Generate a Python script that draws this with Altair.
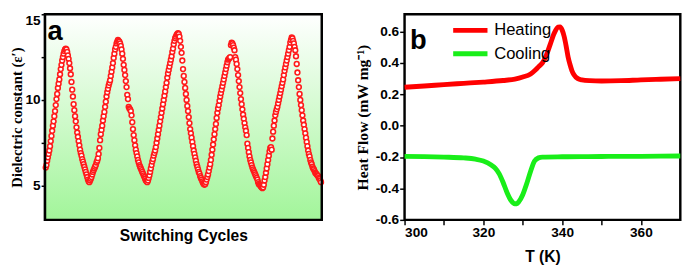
import altair as alt
import pandas as pd

# ---- panel a: dielectric switching ----
rise1 = [6.05, 6.2, 6.45, 6.65, 6.85, 7.05, 7.3, 7.6, 7.9, 8.2, 8.5, 8.75, 9.05, 9.35, 9.7, 10.05,
         10.35, 10.7, 10.95, 11.2, 11.5, 11.8, 12.05, 12.3, 12.5, 12.7, 12.85, 12.95]
fall1 = [13.0, 12.95, 12.8, 12.6, 12.4, 12.15, 11.85, 11.5, 11.05, 10.6, 10.2, 9.75, 9.4, 9.05, 8.75,
         8.4, 8.1, 7.85, 7.6, 7.35, 7.1, 6.9, 6.75, 6.55, 6.4, 6.25, 6.1, 5.95, 5.8, 5.65, 5.5, 5.35, 5.25]
rise2 = [5.2, 5.3, 5.4, 5.5, 5.65, 5.8, 5.9, 6.0, 6.1, 6.2, 6.35, 6.45, 6.6, 6.85, 7.2, 7.65, 8.0, 8.25,
         8.5, 8.8, 9.05, 9.3, 9.6, 9.9, 10.2, 10.45, 10.65, 10.85, 11.0, 11.15, 11.4, 11.65, 11.9, 12.15,
         12.45, 12.7, 12.95, 13.1, 13.3, 13.4, 13.5]
fall2 = [13.45, 13.4, 13.3, 13.15, 12.95, 12.7, 12.4, 12.05, 11.75, 11.45, 11.1, 10.75, 10.3, 10.05, 9.6,
         9.5, 9.45, 9.35, 9.1, 8.7, 8.3, 7.95, 7.65, 7.35, 7.1, 6.9, 6.7, 6.5, 6.35, 6.2, 6.1, 6.0, 5.9,
         5.8, 5.7, 5.6, 5.5, 5.4, 5.3, 5.25, 5.2]
rise3 = [5.3, 5.45, 5.6, 5.8, 6.0, 6.2, 6.4, 6.55, 6.75, 6.9, 7.05, 7.25, 7.5, 7.75, 8.0, 8.25, 8.5, 8.75,
         9.0, 9.25, 9.5, 9.75, 10.0, 10.25, 10.5, 10.75, 11.0, 11.3, 11.55, 11.75, 11.95, 12.15, 12.35,
         12.55, 12.8, 13.0, 13.25, 13.45, 13.6, 13.7, 13.8, 13.85, 13.9]
fall3 = [13.85, 13.7, 13.45, 13.1, 12.75, 12.3, 11.8, 11.4, 11.05, 10.7, 10.35, 10.0, 9.65, 9.35, 9.0,
         8.65, 8.3, 8.05, 7.8, 7.55, 7.3, 7.05, 6.85, 6.65, 6.45, 6.25, 6.1, 5.95, 5.8, 5.7, 5.55, 5.45,
         5.35, 5.25, 5.15, 5.1, 5.05]
rise4 = [5.1, 5.2, 5.35, 5.5, 5.65, 5.85, 6.05, 6.25, 6.5, 6.8, 7.1, 7.4, 7.7, 8.0, 8.3, 8.6, 8.95, 9.25,
         9.5, 9.7, 9.95, 10.2, 10.4, 10.6, 10.8, 11.0, 11.2, 11.4, 11.6, 11.8, 12.0, 12.2, 12.35, 12.4,
         12.45, 12.5, 13.2, 13.35, 13.3]
fall4 = [13.2, 13.05, 12.9, 12.5, 12.35, 12.1, 11.8, 11.45, 11.1, 10.75, 10.4, 10.05, 9.75, 9.45, 9.15,
         8.9, 8.65, 8.4, 8.2, 7.95, 7.45, 7.2, 6.95, 6.7, 6.5, 6.35, 6.2, 6.05, 5.95, 5.85, 5.75, 5.65,
         5.55, 5.45, 5.35, 5.2, 5.1, 5.05, 5.0, 4.95, 4.9, 4.85]
rise5 = [4.9, 5.05, 5.3, 5.5, 5.75, 6.0, 6.25, 6.5, 6.75, 7.0, 7.2, 7.25, 7.1, 7.75, 8.15, 8.5, 8.8, 9.1,
         9.3, 9.45, 9.6, 9.8, 10.0, 10.2, 10.4, 10.6, 10.8, 11.0, 11.2, 11.45, 11.7, 11.9, 12.1, 12.3,
         12.5, 12.7, 12.9, 13.1, 13.35, 13.5, 13.65]
fall5 = [13.6, 13.45, 13.3, 13.1, 12.9, 12.55, 12.1, 11.6, 11.15, 10.75, 10.35, 10.0, 9.7, 9.4, 9.1, 8.8,
         8.55, 8.3, 8.05, 7.8, 7.55, 7.3, 7.05, 6.85, 6.7, 6.5, 6.35, 6.25, 6.1, 6.0, 5.95, 5.85, 5.75,
         5.7, 5.65, 5.6, 5.55, 5.45, 5.4, 5.3, 5.2]

eps = rise1 + fall1 + rise2 + fall2 + rise3 + fall3 + rise4 + fall4 + rise5 + fall5
n_pts = len(eps)
dfa = pd.DataFrame({"i": list(range(n_pts)), "eps": eps})

# ---- panel b: DSC heat flow ----
T_heat = [300, 305, 310, 315, 320, 325, 328, 330, 332, 333, 334, 335, 336, 337, 338, 339, 339.5, 340,
          340.5, 341, 341.5, 342, 342.5, 343, 344, 345, 347, 350, 355, 360, 365, 370]
hf_heat = [0.245, 0.253, 0.262, 0.27, 0.278, 0.288, 0.297, 0.31, 0.33, 0.35, 0.375, 0.40, 0.45, 0.52,
           0.59, 0.628, 0.63, 0.61, 0.57, 0.51, 0.44, 0.39, 0.35, 0.325, 0.30, 0.292, 0.287, 0.285,
           0.287, 0.292, 0.296, 0.30]
T_cool = [300, 305, 310, 315, 318, 320, 322, 323, 324, 325, 326, 327, 328, 328.5, 329, 330, 331, 332,
          333, 334, 335, 340, 345, 350, 355, 360, 365, 370]
hf_cool = [-0.195, -0.197, -0.2, -0.205, -0.213, -0.225, -0.25, -0.27, -0.305, -0.36, -0.425, -0.475,
           -0.497, -0.497, -0.485, -0.44, -0.37, -0.29, -0.225, -0.205, -0.2, -0.198, -0.197, -0.196,
           -0.195, -0.195, -0.194, -0.193]
series_names = ["Heating", "Cooling"]
series_colors = ["#ff0000", "#19ee19"]

dfb = pd.concat([
    pd.DataFrame({"T": T_heat, "hf": hf_heat, "series": series_names[0]}),
    pd.DataFrame({"T": T_cool, "hf": hf_cool, "series": series_names[1]}),
])

W_A, W_B, H = 284, 283, 211
GAP = 85
SANS = "Liberation Sans"
SERIF = "Liberation Serif"
one = pd.DataFrame({"k": [0]})
frame = alt.ViewConfig(stroke="black", strokeWidth=2.5)

bg = alt.Chart(one).mark_rect(
    color=alt.Gradient(
        gradient="linear",
        stops=[alt.GradientStop(color="#ffffff", offset=0),
               alt.GradientStop(color="#a2f59a", offset=1)],
        x1=0, x2=0, y1=0, y2=1,
    )
).encode(x=alt.value(0), x2=alt.value(W_A), y=alt.value(0), y2=alt.value(H))

pts = alt.Chart(dfa).mark_point(
    shape="circle", filled=True, fill="white", stroke="#ff1a1a", strokeWidth=1.6, size=24, opacity=1
).encode(
    x=alt.X("i:Q", scale=alt.Scale(domain=[-1, n_pts], nice=False, zero=False),
            axis=alt.Axis(title="Switching Cycles", labels=False, ticks=False, domain=False, grid=False,
                          titlePadding=8, titleFont=SANS, titleFontSize=16, titleFontWeight="bold")),
    y=alt.Y("eps:Q", scale=alt.Scale(domain=[3, 15], nice=False, zero=False),
            axis=alt.Axis(values=[5, 7.5, 10, 12.5, 15],
                          labelExpr="datum.value % 5 == 0 ? datum.label : ''",
                          labelFlush=True,
                          title="Dielectric constant (ε′)", titleFont=SERIF, titleFontSize=15,
                          titleFontWeight="bold", titlePadding=1, grid=False, domain=False,
                          tickSize=4, labelPadding=1)),
)

border_a = alt.Chart(one).mark_rect(filled=False, stroke="black", strokeWidth=2.5).encode(
    x=alt.value(0), x2=alt.value(W_A), y=alt.value(0), y2=alt.value(H))

lab_a = alt.Chart(one).mark_text(text="a", font=SANS, fontSize=28, fontWeight="bold", align="left",
                                 baseline="alphabetic", color="black").encode(
    x=alt.value(2.5), y=alt.value(26))

panel_a = alt.layer(bg, pts, border_a, lab_a).properties(width=W_A, height=H, view=frame)

lines = alt.Chart(dfb).mark_line(strokeWidth=5, interpolate="monotone").encode(
    x=alt.X("T:Q", scale=alt.Scale(domain=[300, 370], nice=False, zero=False),
            axis=alt.Axis(values=[300, 310, 320, 330, 340, 350, 360],
                          labelExpr="datum.value % 20 == 0 ? datum.label : ''",
                          title="T (K)", titleFont=SANS, titleFontSize=16, titleFontWeight="bold",
                          titlePadding=10, grid=False, domain=False, tickSize=5, labelPadding=1)),
    y=alt.Y("hf:Q", scale=alt.Scale(domain=[-0.6, 0.71], nice=False, zero=False),
            axis=alt.Axis(values=[-0.6, -0.4, -0.2, 0, 0.2, 0.4, 0.6],
                          labelExpr="replace(format(datum.value, '.1f'), '\u2212', '-')",
                          title="Heat Flow (mW mg\u207b\u00b9)", titleFont=SERIF, titleFontSize=16,
                          titleFontWeight="bold", titlePadding=5, grid=False, domain=False,
                          tickSize=5, labelPadding=1)),
    color=alt.Color("series:N", scale=alt.Scale(domain=series_names, range=series_colors),
                    legend=alt.Legend(orient="none", legendX=W_A + GAP + 54, legendY=3, title=None,
                                      symbolType="M-1.6,0L1.6,0", symbolStrokeWidth=5, symbolSize=484,
                                      labelFont=SANS, labelFontSize=17, labelOffset=11,
                                      rowPadding=0, padding=0, labelColor="black")),
)

lab_b = alt.Chart(one).mark_text(text="b", font=SANS, fontSize=28, fontWeight="bold", align="left",
                                 baseline="alphabetic", color="black").encode(
    x=alt.value(5.5), y=alt.value(36))

panel_b = alt.layer(lines, lab_b).properties(width=W_B, height=H, view=frame)

chart = alt.hconcat(panel_a, panel_b, spacing=GAP, bounds="flush").properties(
    padding={"left": 0, "top": 0, "right": 0, "bottom": 0}
).configure_view(
    stroke="black", strokeWidth=2.5
).configure_axis(
    labelFont=SANS, labelFontSize=14, labelFontWeight="bold", labelColor="black",
    tickColor="black", tickWidth=1.5, titleColor="black"
)

chart.save("out.html", embed_options={"renderer": "svg", "actions": False})
